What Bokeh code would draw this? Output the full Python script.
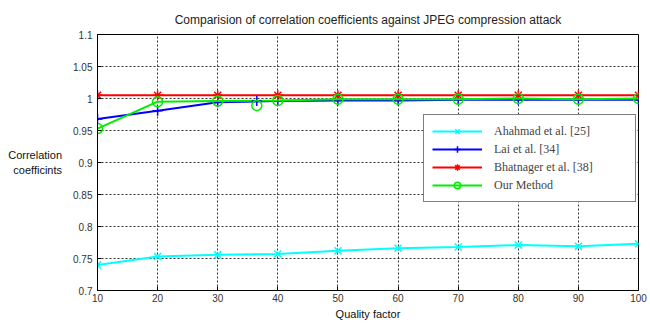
from bokeh.plotting import figure
from bokeh.models import Legend, LegendItem, FixedTicker
from bokeh.embed import file_html
from bokeh.resources import INLINE

quality = [10, 20, 30, 40, 50, 60, 70, 80, 90, 100]
ahahmad = [0.740, 0.753, 0.756, 0.757, 0.762, 0.766, 0.768, 0.771, 0.769, 0.773]
lai = [0.968, 0.981, 0.994, 0.996, 0.997, 0.997, 0.998, 0.998, 0.998, 0.998]
bhatnager = [1.005, 1.005, 1.005, 1.005, 1.005, 1.005, 1.005, 1.005, 1.005, 1.005]
ours = [0.953, 0.995, 0.996, 0.997, 0.999, 0.999, 0.999, 1.000, 0.999, 1.000]
# stray markers visible between 30 and 40
extra_quality = [36.5]
extra_lai = [0.996]
extra_ours = [0.989]
labels = ["Ahahmad et al. [25]", "Lai et al. [34]", "Bhatnager et al. [38]", "Our Method"]
y_ticks = [0.7, 0.75, 0.8, 0.85, 0.9, 0.95, 1.0, 1.05, 1.1]
x_ticks = quality

p = figure(width=650, height=323, output_backend="svg", toolbar_location=None,
           x_range=(10, 100), y_range=(0.7, 1.1),
           min_border_left=97, min_border_right=12, min_border_top=34, min_border_bottom=33)

p.title.text = "Comparision of correlation coefficients against JPEG compression attack"
p.title.align = "center"
p.title.text_font = "Liberation Sans"
p.title.text_font_size = "12px"
p.title.text_font_style = "normal"
p.title.text_color = "#222222"
p.title.standoff = 15

p.outline_line_color = "black"
p.outline_line_width = 1
p.outline_line_alpha = 1

for ax in (p.xaxis, p.yaxis):
    ax.axis_line_color = "black"
    ax.major_tick_in = 4
    ax.major_tick_out = 0
    ax.minor_tick_line_color = None
    ax.major_label_text_font = "Liberation Sans"
    ax.major_label_text_font_size = "10px"
    ax.major_label_text_color = "#333333"
    ax.axis_label_text_font = "Liberation Sans"
    ax.axis_label_text_font_size = "11px"
    ax.axis_label_text_font_style = "normal"
    ax.axis_label_text_color = "#111111"

p.xaxis.ticker = FixedTicker(ticks=x_ticks)
p.yaxis.ticker = FixedTicker(ticks=y_ticks)
p.yaxis.major_label_overrides = {0.7: "0.7", 0.75: "0.75", 0.8: "0.8", 0.85: "0.85", 0.9: "0.9",
                                 0.95: "0.95", 1.0: "1", 1.05: "1.05", 1.1: "1.1"}
p.xaxis.axis_label = "Quality factor"
p.xaxis.axis_label_standoff = 3
p.xaxis.major_label_standoff = 3
p.yaxis.axis_label = "Correlation\ncoefficints"
p.yaxis.axis_label_orientation = "horizontal"
p.yaxis.axis_label_standoff = 8

p.xgrid.grid_line_color = "black"
p.ygrid.grid_line_color = "black"
p.xgrid.grid_line_dash = "2 2"
p.ygrid.grid_line_dash = "2 2"
p.xgrid.grid_line_alpha = 0.8
p.ygrid.grid_line_alpha = 0.8

series = [
    (ahahmad, "#00FFFF", "x"),
    (lai, "#0000FF", "cross"),
    (bhatnager, "#FF0000", "asterisk"),
    (ours, "#00EE00", "circle"),
]
items = []
for (vals, col, mk), lab in zip(series, labels):
    ln = p.line(quality, vals, line_color=col, line_width=2)
    sc = p.scatter(quality, vals, marker=mk, size=10, line_color=col, fill_color=None, line_width=1.5)
    items.append(LegendItem(label=lab, renderers=[ln, sc]))

p.scatter(extra_quality, extra_lai, marker="cross", size=10, line_color="#0000FF", line_width=1.5)
p.scatter(extra_quality, extra_ours, marker="circle", size=10, line_color="#00EE00",
          fill_color=None, line_width=1.5)

legend = Legend(items=items, location=(326, 88), padding=8, spacing=2,
                glyph_width=50, glyph_height=16, label_height=16, label_standoff=12, label_width=133,
                label_text_font="Liberation Serif", label_text_font_size="12px",
                border_line_color="black", border_line_width=1, background_fill_color="white",
                background_fill_alpha=1)
p.add_layout(legend, "center")

open("out.html", "w").write(file_html(p, INLINE))
